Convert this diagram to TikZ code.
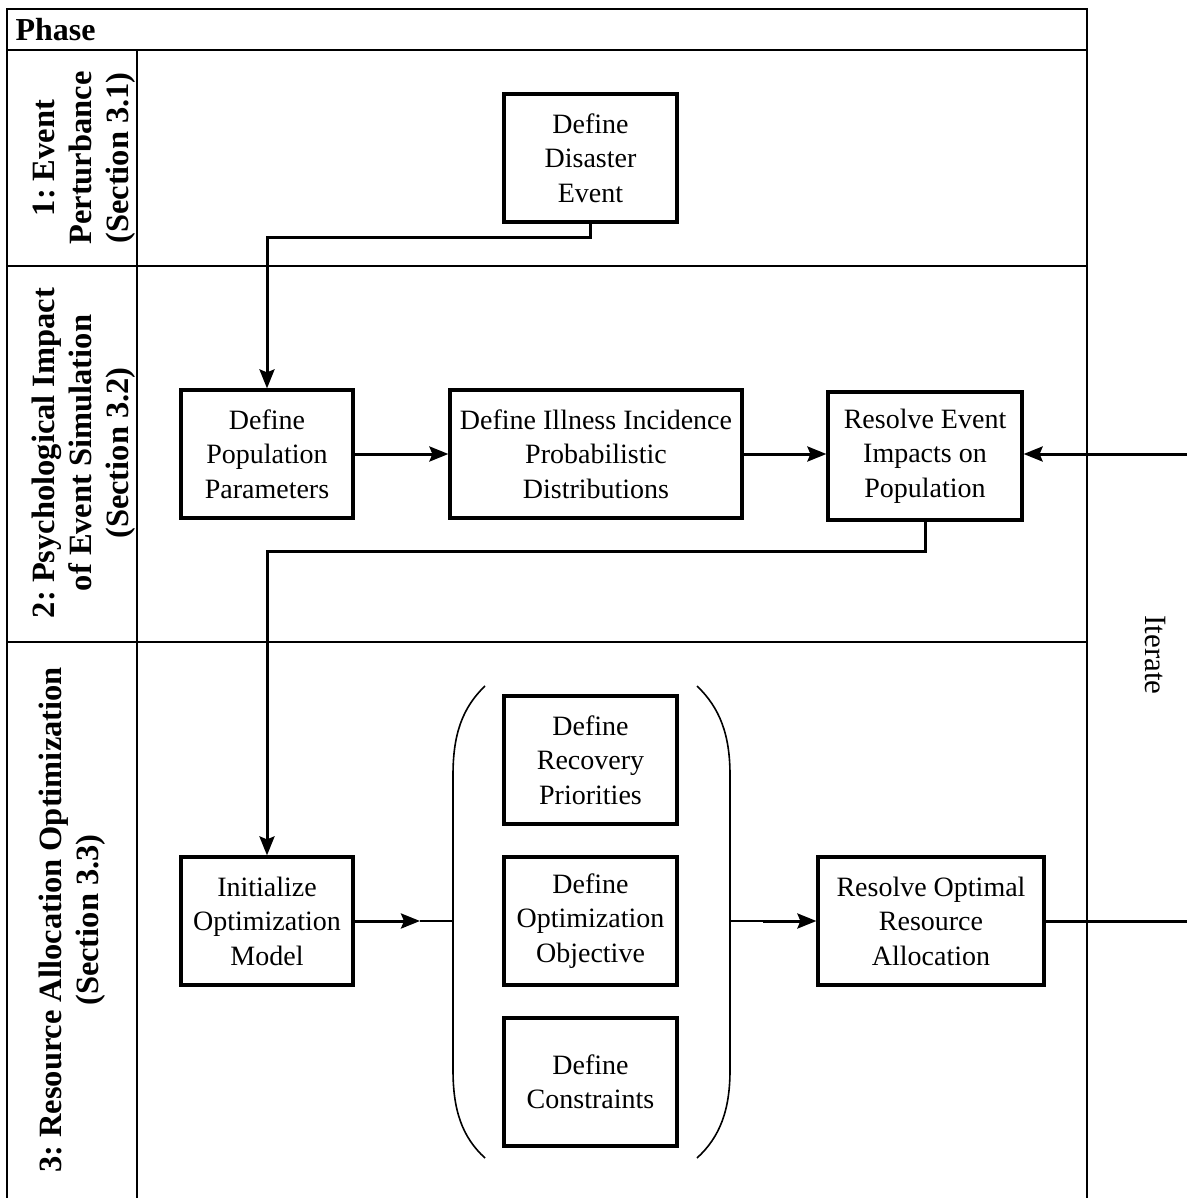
\documentclass[tikz,border=0pt]{standalone}
\usepackage{fontspec}
\setmainfont{Liberation Serif}
\usetikzlibrary{arrows.meta}
\frenchspacing
\begin{document}
\begin{tikzpicture}[x=1pt,y=-1pt,
  lane/.style={line width=1.5pt},
  conn/.style={line width=3pt,-{Stealth[length=19pt,width=15pt,inset=3pt]}},
  plain/.style={line width=3pt},
  proc/.style={draw,line width=3.2pt,align=center,inner sep=0pt,minimum height=128pt,
    font=\fontsize{28}{34.5}\selectfont},
  lanelabel/.style={rotate=90,align=center,font=\fontsize{32.5}{37}\selectfont\bfseries},
  paren/.style={line width=1.6pt}]
\useasboundingbox (0,0) rectangle (1186,1198);
\fill[white] (0,0) rectangle (1186,1198);
% frame and lanes
\draw[lane] (7,1205) -- (7,9) -- (1087,9) -- (1087,1205);
\draw[lane] (7,50) -- (1087,50);
\draw[lane] (137,50) -- (137,1205);
\draw[lane] (7,266) -- (1087,266);
\draw[lane] (7,642) -- (1087,642);
\node[anchor=west,font=\fontsize{32}{38}\selectfont\bfseries] (phase) at (12,30) {Phase};
\node[lanelabel] (l1) at (84,158) {1: Event\\Perturbance\\(Section 3.1)};
\node[lanelabel] (l2) at (84,453) {2: Psychological Impact\\of Event Simulation\\(Section 3.2)};
\node[lanelabel] (l3) at (72,920) {3: Resource Allocation Optimization\\(Section 3.3)};
\node[rotate=-90,font=\fontsize{31}{36}\selectfont] (iter) at (1155,655) {Iterate};
% process boxes
\node[proc,minimum width=173pt] (dis) at (590.5,158) {Define\\Disaster\\Event};
\node[proc,minimum width=172pt] (pop) at (267,454) {Define\\Population\\Parameters};
\node[proc,minimum width=292pt] (ill) at (596,454) {Define Illness Incidence\\Probabilistic\\Distributions};
\node[proc,minimum width=194pt] (res) at (925,456) {Resolve Event\\Impacts on\\Population};
\node[proc,minimum width=172pt] (ini) at (267,921) {Initialize\\Optimization\\Model};
\node[proc,minimum width=173pt] (rec) at (590.5,760) {Define\\Recovery\\Priorities};
\node[proc,minimum width=173pt] (obj) at (590.5,921) {Define\\Optimization\\Objective};
\node[proc,minimum width=173pt] (con) at (590.5,1082) {Define\\Constraints};
\node[proc,minimum width=226pt] (opt) at (931,921) {Resolve Optimal\\Resource\\Allocation};
% parentheses
\draw[paren] (485,686) .. controls (462,708) and (453,735) .. (453,775) -- (453,1070) .. controls (453,1110) and (462,1137) .. (485,1158);
\draw[paren] (697,686) .. controls (720,708) and (730,735) .. (730,775) -- (730,1070) .. controls (730,1110) and (720,1137) .. (697,1158);
\coordinate (lp) at (453,921);
\coordinate (rp) at (730,921);
\coordinate (m1) at (420,921);
\coordinate (m2) at (763,921);
\coordinate (r1) at (1190,921);
\coordinate (r2) at (1190,454);
% connectors
\draw[conn] (dis.south) -- ++(0,14) -| (pop.north);
\draw[conn] (pop.east) -- (ill.west);
\draw[conn] (ill.east) -- (res.west |- ill.east);
\draw[conn] (res.south) -- ++(0,30) -| (ini.north);
\draw[conn] (ini.east) -- (m1);
\draw[lane] (m1) -- (lp);
\draw[lane] (rp) -- (m2);
\draw[conn] (m2) -- (opt.west);
\draw[plain] (opt.east) -- (r1);
\draw[conn] (r2) -- (res.east |- r2);
\end{tikzpicture}
\end{document}
